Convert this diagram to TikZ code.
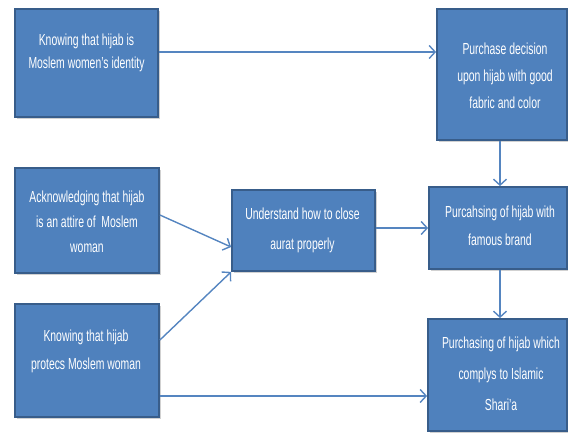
\documentclass[tikz,border=0pt]{standalone}
\usepackage{fontspec}
\setmainfont[FakeStretch=0.65]{Liberation Sans}
\usetikzlibrary{arrows.meta,shadows}
\definecolor{boxfill}{HTML}{4F81BD}
\definecolor{boxline}{HTML}{385D8A}
\definecolor{arrowc}{HTML}{5585C0}
\tikzset{
  bx/.style={draw=boxline, line width=1.8pt, fill=boxfill, inner sep=0pt,
    drop shadow={shadow xshift=1.5pt, shadow yshift=-1.5pt, opacity=0.3, fill=black!60}},
  txt/.style={text=white, align=center, inner sep=0pt, font=\fontsize{16}{#1}\selectfont},
  conn/.style={draw=arrowc, line width=1.4pt, -{Straight Barb[length=6pt,width=13pt,line width=1.4pt]}},
}
\begin{document}
\begin{tikzpicture}[x=1pt,y=-1pt]
\useasboundingbox (0,0) rectangle (568,432);
% boxes
\node[bx, minimum width=143pt, minimum height=108pt] (b1) at (86.5,63) {};
\node[bx, minimum width=130pt, minimum height=131pt] (tr) at (502,74.5) {};
\node[bx, minimum width=144pt, minimum height=105pt] (b2) at (87,220.5) {};
\node[bx, minimum width=143pt, minimum height=81pt] (un) at (303.5,230.5) {};
\node[bx, minimum width=138pt, minimum height=82pt] (fb) at (498,228) {};
\node[bx, minimum width=144pt, minimum height=113pt] (b3) at (87,360.5) {};
\node[bx, minimum width=139pt, minimum height=112pt] (br) at (497.5,375) {};
% texts
\node[txt=23] (b1t) at (86.5,53) {Knowing that hijab is\\Moslem women's identity};
\node[txt=27] (trt) at (505,76) {Purchase decision\\upon hijab with good\\fabric and color};
\node[txt=25] (b2t) at (87,222) {Acknowledging that hijab\\is an attire of \ Moslem\\woman};
\node[txt=30] (unt) at (302.5,230) {Understand how to close\\aurat properly};
\node[txt=28] (fbt) at (500,226) {Purcahsing of hijab with\\famous brand};
\node[txt=28] (b3t) at (86,351) {Knowing that hijab\\protecs Moslem woman};
\node[txt=31] (brt) at (501,374) {Purchasing of hijab which\\complys to Islamic\\Shari'a};
% connectors
\draw[conn] (b1.east |- 0,52) -- (tr.west |- 0,52);
\draw[conn] (tr.south -| 500,0) -- (fb.north -| 500,0);
\draw[conn] (b2.east |- 0,215) -- (un.west |- 0,247);
\draw[conn] (b3.east |- 0,340) -- (un.south west);
\draw[conn] (un.east |- 0,228) -- (fb.west |- 0,228);
\draw[conn] (fb.south -| 500,0) -- (br.north -| 500,0);
\draw[conn] (b3.east |- 0,396) -- (br.west |- 0,396);
\end{tikzpicture}
\end{document}
